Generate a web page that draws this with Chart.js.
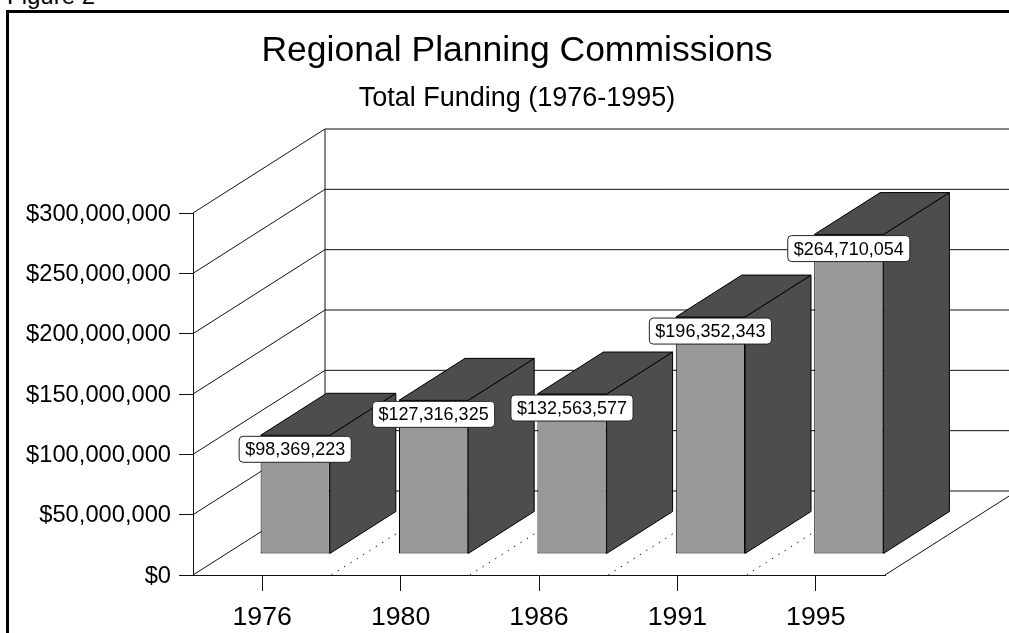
<!DOCTYPE html>
<html>
<head>
<meta charset="utf-8">
<title>Regional Planning Commissions</title>
<script src="https://cdn.jsdelivr.net/npm/chart.js@4"></script>
<style>
    html, body { margin: 0; padding: 0; background: #fff; overflow: hidden; }
    #page { position: relative; width: 1009px; height: 633px; overflow: hidden; }
    #figure { position: absolute; left: 7px; top: -18px; font: 24px "Liberation Sans", Arial, sans-serif; color: #000; }
    #frame { position: absolute; left: 6px; top: 10px; width: 1100px; height: 800px; border-left: 3px solid #000; border-top: 3px solid #000; }
    canvas { position: absolute; left: 0; top: 0; }
</style>
</head>
<body>
<div id="page">
    <div id="figure">Figure 2</div>
    <canvas id="myChart" width="1009" height="633"></canvas>
    <div id="frame"></div>
</div>
<script>
const categories = ['1976', '1980', '1986', '1991', '1995'];
const funding = [98369223, 127316325, 132563577, 196352343, 264710054];
const wallTicks = [0, 50000000, 100000000, 150000000, 200000000, 250000000, 300000000];

const FONT = '"Liberation Sans", Arial, sans-serif';

// fake 3d: how far the back wall sits from the front plane
const depthX = 132;
const depthY = 84;
const barStart = 0.25;
const barDepth = 0.5;

function money(v) {
    return '$' + v.toLocaleString('en-US');
}

function line(ctx, x1, y1, x2, y2) {
    ctx.beginPath();
    ctx.moveTo(x1, y1);
    ctx.lineTo(x2, y2);
    ctx.stroke();
}

function face(ctx, points, fill) {
    ctx.beginPath();
    points.forEach((p, i) => i ? ctx.lineTo(p[0], p[1]) : ctx.moveTo(p[0], p[1]));
    ctx.closePath();
    ctx.fillStyle = fill;
    ctx.fill();
    ctx.stroke();
}

const box3d = {
    id: 'box3d',
    // walls and floor, behind everything
    beforeDatasetsDraw(chart) {
        const ctx = chart.ctx;
        const area = chart.chartArea;
        const x = chart.scales.x;
        const y = chart.scales.y;
        ctx.save();
        ctx.strokeStyle = '#111';
        ctx.lineWidth = 1;
        wallTicks.forEach(v => {
            const py = y.getPixelForValue(v);
            line(ctx, area.left, py, area.left + depthX, py - depthY);
            line(ctx, area.left + depthX, py - depthY, chart.width, py - depthY);
        });
        line(ctx, area.left + depthX, area.top - depthY, area.left + depthX, area.bottom - depthY);
        line(ctx, area.right, area.bottom, area.right + depthX, area.bottom - depthY);

        // dotted floor lines between the categories
        ctx.setLineDash([1.5, 6]);
        for (let i = 1; i < categories.length; i++) {
            const px = (x.getPixelForValue(i - 1) + x.getPixelForValue(i)) / 2;
            line(ctx, px, area.bottom, px + depthX, area.bottom - depthY);
        }
        ctx.restore();
    },
    // side and top of the bar, then shift the canvas so the library's bar lands on the front face
    beforeDatasetDraw(chart, args) {
        const ctx = chart.ctx;
        const sx = depthX * barStart;
        const sy = depthY * barStart;
        const dx = depthX * barDepth;
        const dy = depthY * barDepth;
        ctx.save();
        ctx.strokeStyle = '#000';
        ctx.lineWidth = 1;
        args.meta.data.forEach(bar => {
            const left = bar.x - bar.width / 2 + sx;
            const right = bar.x + bar.width / 2 + sx;
            const top = bar.y - sy;
            const base = bar.base - sy;
            face(ctx, [[right, top], [right + dx, top - dy], [right + dx, base - dy], [right, base]], '#4d4d4d');
            face(ctx, [[left, top], [left + dx, top - dy], [right + dx, top - dy], [right, top]], '#4d4d4d');
        });
        ctx.restore();
        ctx.save();
        ctx.translate(sx, -sy);
    },
    afterDatasetDraw(chart) {
        chart.ctx.restore();
    },
    // value boxes on the top edge of each front face
    afterDatasetsDraw(chart) {
        const ctx = chart.ctx;
        const sx = depthX * barStart;
        const sy = depthY * barStart;
        ctx.save();
        ctx.font = '18px ' + FONT;
        ctx.textAlign = 'center';
        ctx.textBaseline = 'middle';
        chart.getDatasetMeta(0).data.forEach((bar, i) => {
            const text = money(funding[i]);
            const w = ctx.measureText(text).width + 12;
            const h = 26;
            const cx = bar.x + sx;
            const top = bar.y - sy + 1;
            ctx.beginPath();
            ctx.roundRect(cx - w / 2, top, w, h, 4);
            ctx.fillStyle = '#fff';
            ctx.fill();
            ctx.strokeStyle = '#222';
            ctx.lineWidth = 1;
            ctx.stroke();
            ctx.fillStyle = '#000';
            ctx.fillText(text, cx, top + h / 2 + 1);
        });
        ctx.restore();
    }
};

const chartData = {
    labels: categories,
    datasets: [{
        label: 'Total Funding',
        data: funding,
        backgroundColor: '#999999',
        borderColor: '#000000',
        borderWidth: 1,
        borderSkipped: false,
        barPercentage: 0.5,
        categoryPercentage: 1,
        clip: false
    }]
};

const config = {
    type: 'bar',
    data: chartData,
    options: {
        responsive: false,
        animation: false,
        // left padding pushes the centred titles right of the canvas middle
        layout: {
            padding: { left: 25, right: 0, top: 0, bottom: 0 }
        },
        scales: {
            x: {
                afterFit(scale) { scale.height = 58; },
                grid: {
                    offset: false,
                    drawOnChartArea: false,
                    tickLength: 16,
                    tickColor: '#111',
                    tickWidth: 1
                },
                border: { color: '#111', width: 1 },
                ticks: {
                    color: '#000',
                    padding: 10.5,
                    maxRotation: 0,
                    font: { family: FONT, size: 26.7 }
                }
            },
            y: {
                min: 0,
                max: 300000000,
                afterFit(scale) { scale.width = 168; },
                grid: {
                    drawOnChartArea: false,
                    tickLength: 14,
                    tickColor: '#111',
                    tickWidth: 1
                },
                border: { color: '#111', width: 1 },
                ticks: {
                    stepSize: 50000000,
                    color: '#000',
                    padding: 8,
                    labelOffset: 1,
                    font: { family: FONT, size: 23.7 },
                    callback: v => money(v)
                }
            },
            // empty axis, only keeps the room for the walls running off to the right
            side: {
                type: 'linear',
                position: 'right',
                afterFit(scale) { scale.width = 124; },
                grid: { drawOnChartArea: false, drawTicks: false },
                border: { display: false },
                ticks: { display: false }
            }
        },
        plugins: {
            legend: { display: false },
            tooltip: { enabled: false },
            title: {
                display: true,
                text: 'Regional Planning Commissions',
                color: '#000',
                font: { family: FONT, size: 35.5, weight: 'normal', lineHeight: 1.2 },
                padding: { top: 30.1, bottom: 10.1 }
            },
            subtitle: {
                display: true,
                text: 'Total Funding (1976-1995)',
                color: '#000',
                font: { family: FONT, size: 27, weight: 'normal', lineHeight: 1.2 },
                padding: { top: 0, bottom: 97.8 }
            }
        }
    },
    plugins: [box3d]
};

const ctx = document.getElementById('myChart').getContext('2d');
new Chart(ctx, config);
</script>
</body>
</html>
